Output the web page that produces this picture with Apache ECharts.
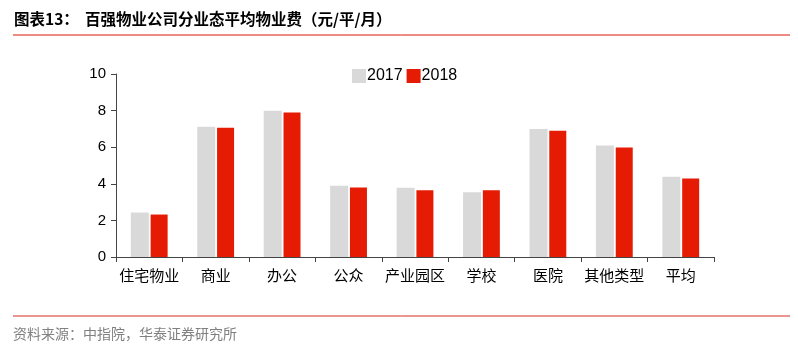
<!DOCTYPE html>
<html><head><meta charset="utf-8">
<script src="https://cdn.jsdelivr.net/npm/echarts@6/dist/echarts.min.js"></script>
<style>html,body{margin:0;padding:0;background:#fff}#c{width:798px;height:353px}</style>
</head><body><div id="c"></div>
<script>
const categories = ['住宅物业','商业','办公','公众','产业园区','学校','医院','其他类型','平均'];
const values2017 = [2.43, 7.12, 7.99, 3.89, 3.78, 3.54, 6.99, 6.09, 4.38];
const values2018 = [2.32, 7.06, 7.90, 3.80, 3.65, 3.65, 6.90, 5.99, 4.29];
const yTicks = [0, 2, 4, 6, 8, 10];
const titleLabel = '图表13：';
const titleText = '百强物业公司分业态平均物业费（元/平/月）';
const sourceText = '资料来源：中指院，华泰证券研究所';

const chart = echarts.init(document.getElementById('c'));
chart.setOption({
  animation: false,
  grid: {left: 116, right: 84, top: 74, bottom: 96},
  legend: {
    data: ['2017','2018'], left: 347, top: 63, itemWidth: 14, itemHeight: 14, itemGap: 4,
    icon: 'rect',
    textStyle: {fontFamily: 'Liberation Sans, Arial', fontSize: 16, color: '#000', padding: [0,0,0,-4]}
  },
  xAxis: {
    type: 'category', data: categories,
    axisLine: {lineStyle: {color: '#444', width: 1}},
    axisTick: {show: true, length: 5, lineStyle: {color: '#444'}},
    axisLabel: {interval: 0, fontFamily: 'Noto Sans CJK SC', fontSize: 15, color: '#000', margin: 11}
  },
  yAxis: {
    type: 'value', min: yTicks[0], max: yTicks[yTicks.length-1], interval: 2,
    splitLine: {show: false},
    axisLine: {show: true, lineStyle: {color: '#444'}},
    axisTick: {show: true, length: 5, lineStyle: {color: '#444'}},
    axisLabel: {fontFamily: 'Liberation Sans, Arial', fontSize: 15, color: '#000', margin: 10}
  },
  series: [
    {name: '2017', type: 'bar', data: values2017, barWidth: 18, barGap: '10%', itemStyle: {color: '#d9d9d9'}},
    {name: '2018', type: 'bar', data: values2018, barWidth: 17, itemStyle: {color: '#e51b04'}}
  ],
  graphic: [
    {type: 'text', left: 14, top: 11, style: {text: titleLabel, font: 'bold 15.5px "Noto Sans CJK SC"', fill: '#000'}},
    {type: 'text', left: 85, top: 11, style: {text: titleText, font: 'bold 15.5px "Noto Sans CJK SC"', fill: '#000'}},
    {type: 'line', shape: {x1: 13, y1: 35, x2: 790, y2: 35}, style: {stroke: '#e0140a', lineWidth: 1}},
    {type: 'line', shape: {x1: 13, y1: 316, x2: 790, y2: 316}, style: {stroke: '#d42a1e', lineWidth: 1}},
    {type: 'text', left: 13, top: 327, style: {text: sourceText, font: '14px "Noto Sans CJK SC"', fill: '#808080'}}
  ]
});
</script></body></html>
